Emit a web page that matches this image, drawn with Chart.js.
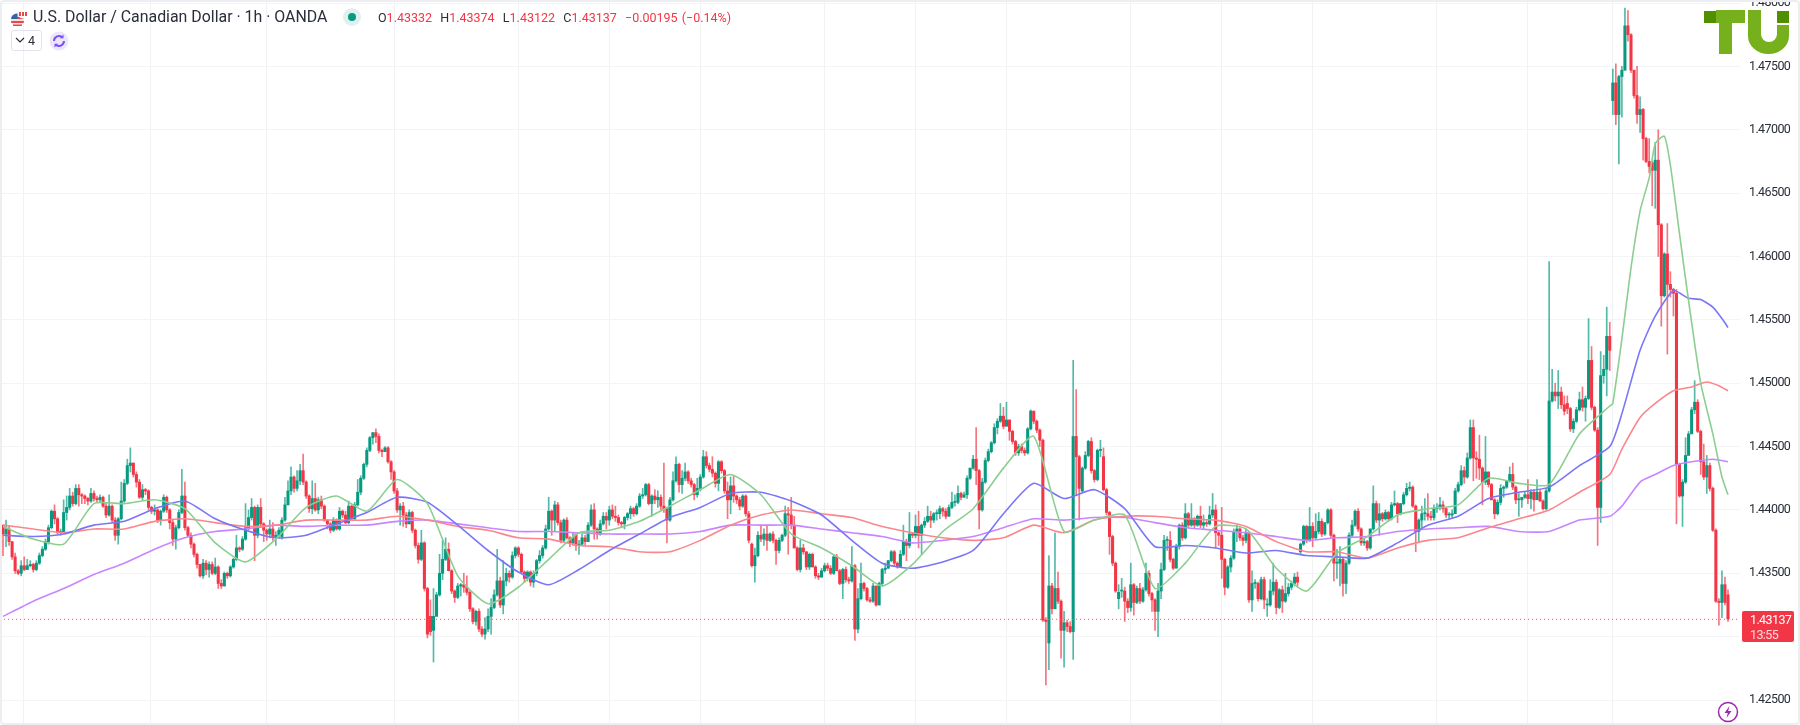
<!DOCTYPE html>
<html>
<head>
<meta charset="utf-8">
<title>USD/CAD 1h</title>
<script src="https://cdn.jsdelivr.net/npm/chart.js@4"></script>
<style>
  html, body { margin: 0; background: #fff; }
  #wrap { position: relative; width: 1800px; height: 725px; overflow: hidden; font-family: Roboto, sans-serif; }
  #frame { position: absolute; left: 0; top: 0; width: 1796px; height: 721px; border: 2px solid #eceef1; border-radius: 4px; pointer-events: none; }
  .abs { position: absolute; white-space: nowrap; }
  #title { left: 33px; top: 7px; font-size: 15.9px; color: #2a2e39; }
  #ohlc { left: 378px; top: 10px; font-size: 12.5px; color: #f23645; word-spacing: 1px; }
  #ohlc b { font-weight: 400; color: #2a2e39; }
  #countBox { left: 11px; top: 30px; width: 29px; height: 19px; border: 1px solid #e0e3eb; border-radius: 3px; font-size: 12.5px; line-height: 19px; color: #2a2e39; text-align: right; }
  #countBox span { padding-right: 6px; }
  #priceTag { left: 1742px; top: 611px; width: 52px; height: 31px; background: #f23645; border-radius: 2px; color: #fff; font: 12.5px Roboto, sans-serif; letter-spacing: -0.6px; line-height: 15px; padding-left: 8px; box-sizing: border-box; padding-top: 1px; }
  #priceTag div + div { color: #ffd9dc; }
</style>
</head>
<body>
<div id="wrap">
  <canvas id="priceChart" width="1800" height="725"></canvas>
  <div id="frame"></div>
  <svg class="abs" style="left:10px;top:8px" width="20" height="20" viewBox="0 0 20 20">
    <circle cx="7.5" cy="12" r="6.5" fill="#f7dfe0"/>
    <path d="M1.5 9h12v2h-12zM1.2 13h12.6v2h-12.6zM3 16.5h9v1.5h-9z" fill="#e5484d"/>
    <path d="M1.5 9a6.5 6.5 0 0 1 6-3.5v5.5h-6z" fill="#3563a8"/>
    <circle cx="13" cy="6" r="4.5" fill="#fff"/>
    <path d="M9 4h2v4h-2zM15 4h2v4h-2zM12 4h2v4h-2z" fill="#e5484d"/>
  </svg>
  <div id="title" class="abs">U.S. Dollar / Canadian Dollar · 1h · OANDA</div>
  <svg class="abs" style="left:342px;top:7px" width="20" height="20">
    <circle cx="10" cy="10" r="9" fill="#dff1ee"/>
    <circle cx="10" cy="10" r="4" fill="#089981"/>
  </svg>
  <div id="ohlc" class="abs"><b>O</b>1.43332 &nbsp;<b>H</b>1.43374 &nbsp;<b>L</b>1.43122 &nbsp;<b>C</b>1.43137 &nbsp;−0.00195 (−0.14%)</div>
  <div id="countBox" class="abs"><span>4</span></div>
  <svg class="abs" style="left:15px;top:37px" width="10" height="7"><path d="M1 1l4 4 4-4" fill="none" stroke="#2a2e39" stroke-width="1.2"/></svg>
  <svg class="abs" style="left:49px;top:31px" width="20" height="20">
    <circle cx="10" cy="10" r="9.5" fill="#ece6fb"/>
    <path d="M5 10a5 5 0 0 1 8.5-3.5M15 10a5 5 0 0 1-8.5 3.5" fill="none" stroke="#7c4dff" stroke-width="2"/>
    <path d="M14.5 3.5v3.8h-3.8zM5.5 16.5v-3.8h3.8z" fill="#7c4dff"/>
  </svg>
  <svg class="abs" style="left:1700px;top:6px" width="96" height="52" viewBox="1700 6 96 52">
    <rect x="1704" y="11" width="12" height="12" fill="#4f8f00"/>
    <path d="M1716 10h29v13h-13v31h-13v-31h-3z" fill="#76b01c"/>
    <path d="M1748 10h13v24a8 8 0 0 0 16 0v-9h12v11a20.5 18 0 0 1-41 0z" fill="#76b01c"/>
    <rect x="1777" y="11" width="12" height="12" fill="#4f8f00"/>
  </svg>
  <div id="priceTag" class="abs"><div>1.43137</div><div>13:55</div></div>
  <svg class="abs" style="left:1717px;top:701px" width="22" height="22">
    <circle cx="11" cy="11" r="9.5" fill="#fff" stroke="#9c27b0" stroke-width="1.5"/>
    <path d="M12.5 5l-5 7h3.3l-1.3 5 5-7h-3.3z" fill="#9c27b0"/>
  </svg>
</div>
<script>
// prices are written as pips above 1.4000
const BASE_PRICE = 1.4;
const PIP = 0.0001;
const LAST_PRICE = 1.43137;

const opens = [
  388,381,385,375,363,352,350,356,353,356,357,353,358,364,369,375,386,399,393,382,383,398,402,411,405,417,412,411,409,407,
  413,409,408,410,403,396,403,392,380,393,407,421,435,437,428,422,410,416,415,402,399,400,392,399,410,400,390,377,386,398,
  411,386,380,373,365,357,348,358,353,357,350,355,342,340,350,348,355,361,370,369,377,386,394,402,380,402,389,384,381,385,379,380,
  379,392,404,415,426,417,423,431,422,411,401,409,400,408,403,392,389,384,392,385,399,396,390,403,393,404,414,425,436,447,
  457,461,458,447,446,449,438,430,415,400,403,396,389,398,384,372,361,374,338,316,305,316,333,350,361,369,352,336,331,340,341,339,
  335,322,312,320,306,302,306,316,323,333,344,325,344,350,347,364,370,365,351,346,351,343,350,360,364,370,385,399,392,404,390,376,392,378,374,
  381,372,373,378,375,388,400,385,381,389,395,392,400,395,394,390,389,394,397,401,397,403,411,412,420,405,411,408,410,403,
  401,392,408,423,436,420,425,430,423,420,412,417,426,442,435,432,429,421,438,431,415,408,419,411,408,403,411,397,373,356,
  364,380,377,381,376,381,376,368,376,380,397,396,388,370,353,370,367,355,365,355,348,347,352,356,354,350,363,352,342,353,345,344,356,306,330,342,338,
  329,328,340,325,342,353,354,360,367,358,355,365,375,372,381,380,387,380,388,391,395,392,397,397,401,399,395,402,406,406,413,
  410,412,425,433,440,431,400,422,439,446,453,465,470,474,466,471,462,454,445,450,447,445,464,478,470,463,455,313,295,340,322,
  338,328,305,311,308,304,458,442,415,433,443,454,431,424,447,442,416,398,379,358,330,336,336,328,323,341,327,338,328,337,350,334,329,320,
  336,353,376,376,361,354,371,388,378,397,388,393,388,395,388,390,389,396,400,382,380,361,339,355,362,383,385,378,376,
  382,329,342,342,330,345,325,325,336,343,323,337,328,334,339,342,347,367,373,387,376,387,378,383,391,381,390,400,380,358,
  358,361,342,358,380,388,399,385,374,375,370,385,405,392,397,393,398,393,404,405,397,405,412,417,418,403,383,392,397,397,395,394,401,402,404,401,396,396,
  397,415,420,431,426,441,465,441,440,433,422,430,420,408,397,406,417,418,423,428,418,408,408,410,412,409,414,408,414,407,401,415,486,493,
  490,493,483,484,480,464,470,479,487,481,488,518,481,463,402,506,511,537,723,737,712,742,747,782,775,747,727,712,
  716,693,675,674,668,676,625,569,602,578,574,571,436,411,422,443,460,479,485,462,438,426,435,417,384,328,327,341,333,
];
const highs = [
  388,392,387,375,366,353,360,363,361,360,358,360,366,371,377,388,400,404,394,385,408,411,417,414,420,420,413,412,410,417,
  415,411,412,411,406,412,404,394,394,422,424,440,449,437,430,424,420,417,416,403,404,401,400,412,411,401,392,388,400,432,
  422,387,382,374,366,357,361,360,359,359,362,356,345,351,351,356,362,380,371,379,405,400,409,403,404,409,390,385,392,390,383,386,
  394,410,423,434,427,431,436,444,423,412,423,421,410,411,404,392,390,394,393,402,400,399,407,404,406,424,427,437,449,458,
  461,464,460,448,450,450,439,431,417,405,406,398,400,399,385,374,384,375,339,329,338,335,365,376,378,374,353,337,342,342,350,348,
  336,323,321,322,308,315,322,330,337,369,347,360,354,352,367,371,371,366,352,352,352,352,361,368,372,388,410,400,407,406,392,393,394,379,382,
  381,376,381,380,390,404,405,386,392,398,398,403,404,403,396,391,395,398,403,402,405,413,417,421,421,412,416,415,412,437,
  402,410,430,442,437,431,437,431,425,421,425,428,447,446,437,442,430,439,439,432,422,426,427,412,410,412,412,399,374,370,
  383,388,385,388,382,383,377,378,381,403,402,410,395,371,376,373,367,366,366,356,350,354,358,358,356,364,365,353,354,355,347,371,357,338,358,343,339,
  331,342,340,343,354,358,360,368,368,359,368,388,377,398,382,396,399,389,394,403,399,398,400,403,402,401,404,414,412,419,414,
  414,427,433,443,465,432,425,441,448,454,468,472,484,481,485,471,463,455,452,452,449,465,479,478,471,464,456,315,364,342,382,
  351,329,320,313,312,518,495,443,434,446,455,457,432,448,455,449,417,399,380,359,341,346,339,330,358,342,340,342,339,358,352,335,330,342,
  358,380,379,383,362,373,389,390,405,398,405,394,396,403,396,392,403,413,404,383,402,362,356,364,385,388,386,380,385,
  383,352,345,343,347,347,330,345,358,345,338,340,350,342,344,350,351,374,388,388,402,390,397,398,393,390,401,401,381,369,
  371,362,360,382,392,400,401,386,377,376,385,419,407,405,398,400,399,406,415,406,405,414,421,422,419,404,393,403,409,413,399,404,405,410,407,402,398,400,
  417,422,435,434,445,471,471,446,459,434,458,430,421,409,408,420,419,423,434,437,419,413,410,414,424,416,416,424,416,408,417,596,511,500,
  510,497,490,490,481,472,481,493,497,490,551,529,482,465,525,522,560,548,748,752,743,750,796,794,776,746,750,726,
  717,694,693,675,690,700,626,603,626,588,575,574,437,424,457,462,481,502,487,463,452,443,437,418,385,330,352,347,337,
];
const lows = [
  364,371,372,361,350,349,348,352,353,355,351,352,357,363,368,373,385,389,381,380,382,392,400,403,404,403,405,405,404,406,
  407,406,406,402,394,395,390,376,373,392,406,420,430,426,418,409,408,412,400,397,396,390,388,398,398,385,372,369,385,397,
  384,379,370,363,354,347,346,349,347,349,349,338,338,340,346,347,354,360,367,368,376,384,392,360,378,386,375,376,378,376,372,378,
  377,391,404,412,414,415,420,420,409,398,397,399,397,401,391,385,382,383,384,384,394,389,389,392,392,403,412,424,434,446,
  452,453,445,442,446,437,424,413,398,388,387,386,389,382,370,358,360,336,299,301,280,323,332,345,360,352,334,327,330,332,335,333,
  320,310,309,304,300,298,304,302,322,332,323,318,340,343,346,362,363,350,343,344,340,339,348,358,362,369,384,380,383,388,374,375,377,371,372,
  368,365,372,372,375,387,377,377,380,388,385,388,393,391,388,386,385,392,393,395,396,402,409,411,404,395,405,402,400,398,
  374,391,407,422,414,413,423,421,418,408,410,415,425,433,430,426,418,415,429,413,393,397,406,405,400,402,395,374,355,343,
  363,375,372,368,375,374,357,366,375,379,365,385,370,352,351,365,353,353,355,346,345,347,351,352,349,349,352,341,330,343,342,343,297,303,329,336,328,
  327,327,324,325,340,350,354,359,356,354,355,364,360,370,378,378,370,365,386,390,386,390,392,393,395,393,395,401,403,405,408,
  410,409,424,432,420,385,399,421,438,445,452,460,469,464,469,455,452,443,443,445,443,444,463,468,461,450,312,262,274,318,322,
  326,283,276,304,303,282,412,392,414,432,442,429,422,423,442,415,396,365,356,335,322,331,312,319,320,317,326,326,327,336,332,320,305,300,
  330,352,368,359,353,355,369,376,377,386,387,386,387,386,385,387,388,394,370,372,346,333,338,351,361,375,376,372,374,
  327,320,338,328,329,322,316,324,333,318,322,319,327,332,337,340,340,365,372,374,375,371,377,381,379,380,389,378,344,346,
  340,332,334,357,379,387,383,372,372,368,369,384,390,380,391,392,391,392,403,390,396,404,411,415,402,367,375,386,392,392,392,392,398,400,398,394,393,394,
  398,414,419,421,425,440,423,425,424,404,420,418,408,393,396,404,410,417,422,416,405,395,402,409,405,401,399,410,407,400,400,414,485,486,
  480,480,475,476,462,461,469,478,478,470,487,479,462,372,390,500,490,510,712,704,673,710,747,770,745,725,705,698,
  676,674,666,640,638,600,545,568,523,568,553,389,410,387,421,448,468,476,461,428,424,413,415,383,327,309,315,325,312,
];
const closes = [
  381,385,375,363,352,350,356,353,356,357,353,358,364,369,375,386,399,393,382,383,398,402,411,405,417,412,411,409,407,413,
  409,408,410,403,396,403,392,380,393,407,421,435,437,428,422,410,416,415,402,399,400,392,399,410,400,390,377,386,398,411,
  386,380,373,365,357,348,358,353,357,350,355,342,340,350,348,355,361,370,369,377,386,394,402,380,402,389,384,381,385,379,380,384,
  392,404,415,426,417,423,431,422,411,401,409,400,408,403,392,389,384,392,385,399,396,390,403,393,404,414,425,436,447,457,
  461,458,447,446,449,438,430,415,400,403,396,389,398,384,372,361,374,338,302,304,316,333,350,361,369,352,336,331,340,341,339,335,
  322,312,320,306,302,306,316,323,333,344,325,344,350,347,364,370,365,351,346,351,343,350,360,364,370,385,399,392,404,390,376,392,378,374,378,
  372,373,378,375,388,400,385,381,389,395,392,400,395,394,390,389,394,397,401,397,403,411,412,420,405,411,408,410,403,401,
  392,408,423,436,420,425,430,423,420,412,417,426,442,435,432,429,421,438,431,415,408,419,411,408,403,411,397,376,356,364,
  380,377,381,376,381,376,368,376,380,397,396,388,370,353,370,367,355,365,355,348,347,352,356,354,350,363,352,342,353,345,344,356,306,330,342,338,329,
  328,340,325,342,353,354,360,367,358,355,365,375,372,381,380,387,380,388,391,395,392,397,397,401,399,395,402,406,406,413,410,
  412,425,433,440,431,400,422,439,446,453,465,470,474,466,471,462,454,445,450,447,445,464,478,470,463,455,313,312,340,322,338,
  328,305,311,308,304,458,442,417,433,443,454,431,424,447,447,416,398,379,358,336,335,336,328,323,341,327,338,328,337,350,334,329,320,336,
  353,376,376,361,354,371,388,378,397,388,393,388,395,388,390,389,396,400,382,380,361,339,355,362,383,385,378,376,382,
  329,342,342,330,345,329,325,336,343,323,337,328,334,339,342,347,343,373,387,376,387,378,383,391,381,390,400,380,358,358,
  361,342,358,380,388,399,385,374,375,370,385,405,392,397,393,398,393,404,405,397,405,412,417,418,403,383,392,397,397,395,394,401,402,404,401,396,396,397,
  415,420,431,426,441,465,441,440,433,422,430,420,408,397,406,417,418,423,428,418,408,408,410,412,409,414,408,414,407,401,415,486,493,490,
  493,483,478,480,464,470,479,487,481,488,518,481,463,402,506,511,537,526,737,712,742,747,782,775,747,727,712,716,
  693,675,671,668,676,625,569,602,578,574,571,436,411,422,443,460,479,485,462,438,426,435,417,384,328,327,341,327,314,
];

// moving averages, read every ten bars and closer together near the spike
const maBars = [
  0,10,20,30,40,50,60,70,80,90,100,110,120,130,140,150,160,170,180,190,200,210,220,230,240,250,260,
  270,280,290,300,310,320,330,340,350,360,370,380,390,400,410,420,430,440,450,460,470,480,490,500,510,520,530,
];
const greenBars = maBars.concat([531,534,537,540,543,545,548,550,553,556,560,564,567,569]);
const green = [
  387,377,373,405,405,408,401,374,359,377,402,411,399,424,405,348,326,339,361,382,384,391,403,416,428,412,381,
  370,356,340,357,383,401,433,458,383,392,396,338,358,387,385,354,336,366,379,396,401,404,425,421,420,460,482,
  484,535,591,636,662,689,695,672,618,565,500,460,426,412,
];
const blueBars = maBars.concat([534,540,545,551,556,560,564,567,569]);
const blue = [
  380,379,381,388,391,401,407,393,384,378,380,389,398,410,406,388,368,351,341,353,368,381,394,402,413,414,407,
  396,376,358,354,359,368,397,421,409,416,401,371,372,370,366,368,364,363,362,374,388,395,409,414,418,435,450,
  476,526,553,573,567,566,560,551,544,
];
const salmonBars = maBars.concat([534,540,545,551,557,562,566,569]);
const salmon = [
  388,385,382,385,385,391,393,390,387,388,392,392,392,395,392,387,384,378,377,372,371,367,367,376,388,396,400,
  397,394,387,382,378,376,378,388,382,392,395,395,393,392,387,375,367,367,362,370,376,378,386,393,400,414,428,
  448,473,484,494,497,501,498,494,
];
const purpleBars = maBars.concat([534,540,545,551,557,564,569]);
const purple = [
  316,328,338,349,358,369,378,383,385,388,387,388,388,391,392,389,386,383,383,382,381,381,381,383,388,388,388,
  385,382,379,374,376,379,386,393,392,394,394,390,386,384,382,379,376,378,379,383,385,386,387,383,383,392,395,
  403,422,428,435,438,440,438,
];

// price axis ticks and the session lines of the time axis, as bar positions
const priceTicks = [1.425, 1.43, 1.435, 1.44, 1.445, 1.45, 1.455, 1.46, 1.465, 1.47, 1.475, 1.48];
const sessionBars = [6.6, 48.5, 87, 129, 170, 200, 230, 271, 301, 331, 372, 402, 432, 473, 503, 531];

const UP = "#089981";
const DOWN = "#f23645";

function toPrice(pips) {
  return BASE_PRICE + pips * PIP;
}

function rangeSeries(a, b) {
  return a.map((v, i) => ({ x: i, y: [toPrice(v), toPrice(b[i])] }));
}

function lineSeries(bars, values) {
  return values.map((v, i) => ({ x: bars[i], y: toPrice(v) }));
}

function maDataset(label, bars, values, color) {
  return {
    type: "line",
    label,
    data: lineSeries(bars, values),
    borderColor: color,
    borderWidth: 1.6,
    pointRadius: 0,
    tension: 0.2,
    order: 1,
  };
}

const barColors = closes.map((c, i) => (c >= opens[i] ? UP : DOWN));
const wickColors = barColors.map((c) => c + "b0");

const barStep = (1728 - 3) / (closes.length - 1);
const xMin = -3 / barStep;
const xMax = xMin + 1740 / barStep;

// the axis labels of the reference are a little condensed
const tightLabels = {
  id: "tightLabels",
  beforeDraw(chart) {
    chart.ctx.letterSpacing = "-0.6px";
  },
};

new Chart(document.getElementById("priceChart"), {
  plugins: [tightLabels],
  data: {
    datasets: [
      maDataset("MA 1", greenBars, green, "#8cce90"),
      maDataset("MA 2", blueBars, blue, "#7a76f7"),
      maDataset("MA 3", salmonBars, salmon, "#fb878d"),
      maDataset("MA 4", purpleBars, purple, "#c985ff"),
      {
        type: "line",
        label: "Last",
        data: [{ x: xMin, y: LAST_PRICE }, { x: xMax, y: LAST_PRICE }],
        borderColor: "#f2505e",
        borderWidth: 1,
        borderDash: [1, 3],
        pointRadius: 0,
        order: 2,
      },
      {
        type: "bar",
        label: "Body",
        data: rangeSeries(opens, closes),
        backgroundColor: barColors,
        barThickness: 2.4,
        minBarLength: 1,
        grouped: false,
        order: 3,
      },
      {
        type: "bar",
        label: "Wick",
        data: rangeSeries(lows, highs),
        backgroundColor: wickColors,
        barThickness: 1,
        grouped: false,
        order: 4,
      },
    ],
  },
  options: {
    responsive: false,
    animation: false,
    layout: { padding: 0 },
    plugins: { legend: { display: false }, tooltip: { enabled: false } },
    scales: {
      x: {
        type: "linear",
        offset: false,
        min: xMin,
        max: xMax,
        border: { display: false },
        grid: { color: "#f1f2f4", drawTicks: false, offset: false },
        ticks: { display: false },
        afterBuildTicks: (axis) => {
          axis.ticks = sessionBars.map((value) => ({ value }));
        },
        afterFit: (axis) => {
          axis.height = 0;
          axis.paddingLeft = 0;
          axis.paddingRight = 0;
        },
      },
      y: {
        position: "right",
        min: 1.42303,
        max: 1.48024,
        border: { display: false },
        grid: { color: "#f3f4f6", drawTicks: false },
        afterBuildTicks: (axis) => {
          axis.ticks = priceTicks.map((value) => ({ value }));
        },
        afterFit: (axis) => {
          axis.width = 60;
          axis.paddingTop = 0;
          axis.paddingBottom = 0;
        },
        ticks: {
          padding: 9,
          color: "#2a2e39",
          font: { family: "Roboto, sans-serif", size: 12.5 },
          callback: (v) => v.toFixed(5),
        },
      },
    },
  },
});
</script>
</body>
</html>
